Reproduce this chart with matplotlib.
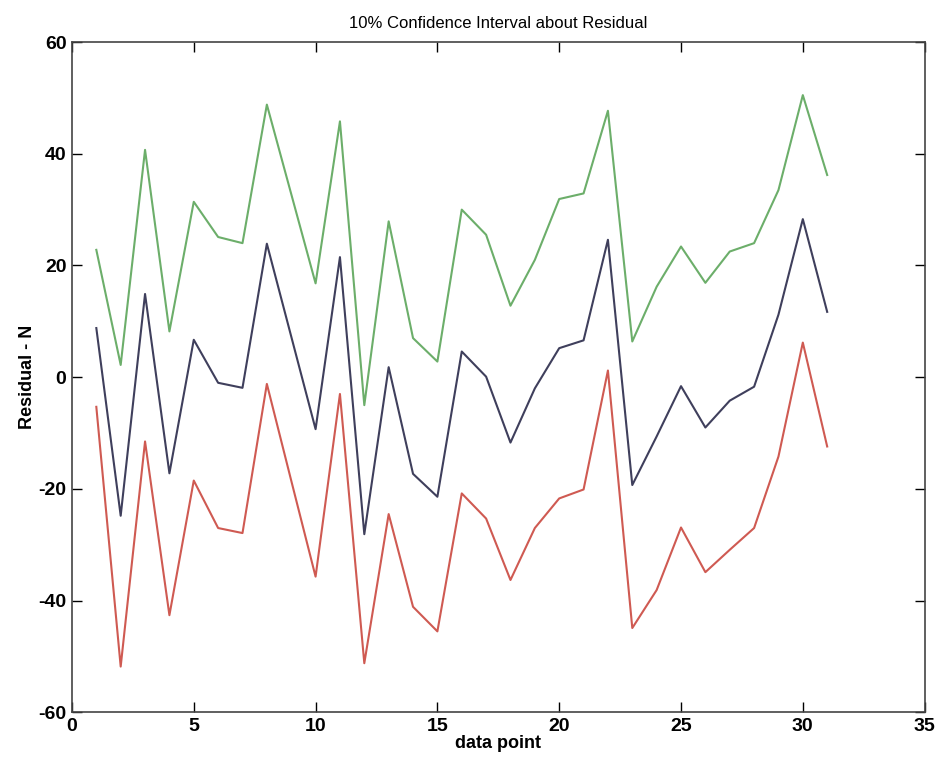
import matplotlib.pyplot as plt

x = list(range(1, 32))
upper = [22.8, 2.2, 40.7, 8.2, 31.4, 25.1, 24.0, 48.8, 32.8, 16.8,
         45.8, -5.0, 27.9, 7.0, 2.8, 30.0, 25.5, 12.8, 21.0, 31.9,
         32.9, 47.7, 6.4, 16.2, 23.4, 16.9, 22.5, 24.0, 33.5, 50.5, 36.2]
resid = [8.8, -24.8, 14.9, -17.2, 6.7, -1.0, -1.9, 23.9, 7.3, -9.3,
         21.5, -28.1, 1.8, -17.3, -21.4, 4.6, 0.1, -11.7, -2.0, 5.2,
         6.6, 24.6, -19.3, -10.6, -1.6, -9.0, -4.2, -1.7, 11.2, 28.3, 11.7]
lower = [-5.3, -51.8, -11.5, -42.6, -18.5, -27.0, -27.9, -1.2, -18.5, -35.7,
         -3.0, -51.2, -24.5, -41.1, -45.5, -20.8, -25.3, -36.3, -27.0, -21.7,
         -20.1, 1.2, -44.9, -38.1, -26.9, -34.9, -30.9, -27.0, -14.2, 6.2, -12.4]

plt.rcParams['font.family'] = ['Liberation Sans', 'DejaVu Sans']
plt.rcParams['axes.unicode_minus'] = False

fig = plt.figure(figsize=(9.37, 7.66), dpi=100)
ax = fig.add_axes([0.0768, 0.070, 0.9100, 0.8751])

ax.plot(x, upper, color='#6cae6a', lw=1.5)
ax.plot(x, resid, color='#3f3f5c', lw=1.5)
ax.plot(x, lower, color='#cf5a52', lw=1.5)

ax.set_xlim(0, 35)
ax.set_ylim(-60, 60)
ax.set_xticks(range(0, 36, 5))
ax.set_yticks(range(-60, 61, 20))
ax.tick_params(direction='in', top=True, right=True, length=7, width=1,
               labelsize=14, pad=4)
for lab in ax.get_xticklabels() + ax.get_yticklabels():
    lab.set_fontweight('bold')
for sp in ax.spines.values():
    sp.set_color('#444444')
    sp.set_linewidth(1.2)

ax.set_title('10% Confidence Interval about Residual', fontsize=12, pad=10)
ax.set_xlabel('data point', fontsize=13, fontweight='bold', labelpad=0)
ax.set_ylabel('Residual - N', fontsize=13, fontweight='bold', labelpad=2)

fig.savefig('out.png', dpi=100)
